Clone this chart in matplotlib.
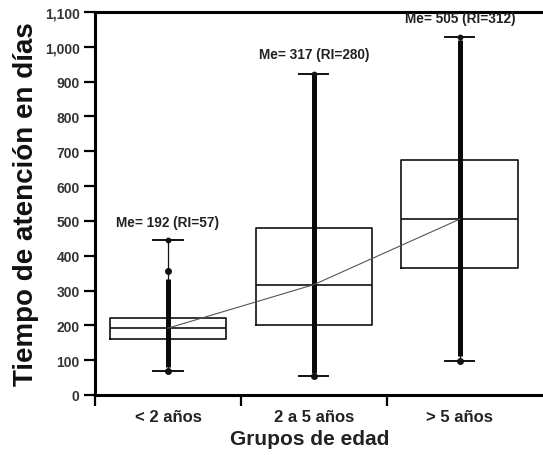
import matplotlib
matplotlib.use('Agg')
import matplotlib.pyplot as plt

plt.rcParams['font.family'] = ['Liberation Sans', 'DejaVu Sans']

# --- data ---
groups = ['< 2 años', '2 a 5 años', '> 5 años']
medians = [192, 317, 505]
q1 = [162, 200, 365]
q3 = [220, 480, 675]
whisker_lo = [68, 55, 98]
whisker_hi = [445, 922, 1028]
# range covered by the dense column of individual observations
obs_lo = [80, 62, 112]
obs_hi = [332, 918, 1020]
# isolated observations outside the dense column
iso_group = [0]
iso_value = [355]
labels = ['Me= 192 (RI=57)', 'Me= 317 (RI=280)', 'Me= 505 (RI=312)']
label_y = [478, 960, 1062]
yticks = list(range(0, 1101, 100))

fig = plt.figure(figsize=(5.43, 4.56), dpi=100)
ax = fig.add_axes([0.175, 0.1316, 0.825, 0.84])

pos = list(range(len(groups)))
stats = []
for i in pos:
    stats.append({'med': medians[i], 'q1': q1[i], 'q3': q3[i],
                  'whislo': whisker_lo[i], 'whishi': whisker_hi[i], 'fliers': []})

ax.bxp(stats, positions=pos, widths=0.8, showfliers=False,
       boxprops=dict(color='#111', linewidth=1.2),
       medianprops=dict(color='#111', linewidth=1.2),
       whiskerprops=dict(color='#111', linewidth=0.9),
       capprops=dict(color='#111', linewidth=1.4),
       capwidths=0.2, zorder=2)

# dense columns of individual observations
ax.vlines(pos, obs_lo, obs_hi, color='#0a0a0a', linewidth=3.6, zorder=3)
ax.scatter(iso_group, iso_value, s=16, color='#111', zorder=3)
ax.scatter(pos, whisker_lo, s=16, color='#111', zorder=3)
ax.scatter(pos, whisker_hi, s=10, color='#111', zorder=3)

# line joining the medians
ax.plot(pos, medians, color='#555', linewidth=0.8, zorder=4)

for i in pos:
    ax.text(i, label_y[i], labels[i], ha='center', va='bottom',
            fontsize=9.8, fontweight='bold', color='#222')

ax.set_xlim(-0.5, 2.57)
ax.set_ylim(0, 1100)
ax.set_yticks(yticks)
ax.set_yticklabels([f'{v:,}' for v in yticks], fontsize=10, fontweight='bold', color='#333')
ax.set_xticks([-0.5, 0.5, 1.5])
ax.set_xticklabels([])
ax.set_xticks(pos, minor=True)
ax.set_xticklabels(groups, minor=True, fontsize=12, fontweight='bold', color='#222')
ax.tick_params(axis='x', which='minor', length=0, pad=10)
ax.tick_params(axis='x', which='major', length=8, width=1.6, direction='out')
ax.tick_params(axis='y', length=8, width=1.6, direction='out', pad=3)

for s in ['left', 'bottom', 'top']:
    ax.spines[s].set_linewidth(2.2)
ax.spines['right'].set_visible(False)

ax.set_xlabel('Grupos de edad', fontsize=15, fontweight='bold', color='#222')
ax.xaxis.set_label_coords(0.48, -0.088)
ax.set_ylabel('Tiempo de atención en días', fontsize=20, fontweight='bold', color='#111', labelpad=4)

fig.savefig('out.png', dpi=100)
